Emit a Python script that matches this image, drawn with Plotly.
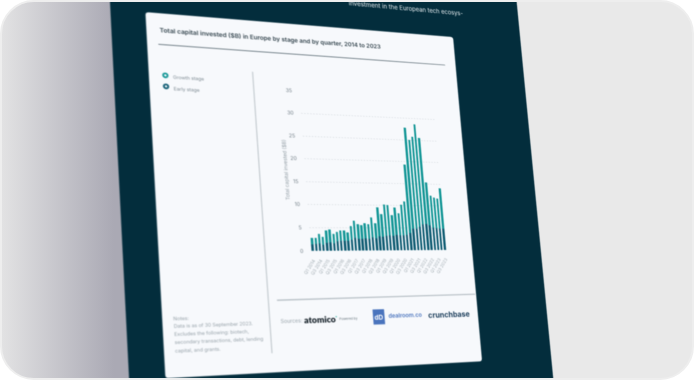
import json
import numpy as np
import plotly.graph_objects as go

# ---------- data ----------
quarters = [f"Q{q} {y}" for y in range(2014, 2024) for q in (1, 2, 3, 4)][:39]
early_stage = [1.4, 1.5, 1.6, 1.3, 1.7, 1.8, 1.6, 2.0, 2.1, 2.2, 2.2, 2.4, 2.8, 2.6, 2.6, 2.7, 2.6, 2.9, 2.7, 3.1,
               3.0, 3.2, 3.3, 3.2, 3.4, 3.3, 3.3, 3.4, 3.9, 4.8, 4.8, 5.3, 5.8, 5.9, 5.6, 5.1, 4.9, 4.8, 4.8]
growth_stage = [1.4, 1.3, 2.1, 1.7, 2.7, 2.8, 2.1, 2.1, 2.3, 2.2, 1.8, 3.0, 3.8, 3.2, 3.0, 3.3, 3.2, 4.4, 3.3, 6.5,
                5.1, 7.0, 6.8, 4.6, 6.2, 5.0, 6.9, 7.6, 15.4, 23.0, 20.2, 20.5, 22.9, 19.7, 9.7, 7.3, 7.0, 6.9, 9.3]
y_ticks = [0, 5, 10, 15, 20, 25, 30, 35]
title_text = "Total capital invested ($B) in Europe by stage and by quarter, 2014 to 2023"
note_lines = ["Notes:", "Data is as of 30 September 2023.", "Excludes the following: biotech,",
              "secondary transactions, debt, lending", "capital, and grants."]

# ---------- the page is one tilted plane: homography from flat card to screen ----------
TEAL, DARK, PANEL, CARD = "#139696", "#0e5b72", "#032d3c", "#f7f9fc"
CW, CH = 620.0, 700.0
card_screen = [(145, 12), (453, 37), (482, 361), (165, 378)]


def homography(src, dst):
    A, b = [], []
    for (x, y), (u, v) in zip(src, dst):
        A.append([x, y, 1, 0, 0, 0, -u * x, -u * y]); b.append(u)
        A.append([0, 0, 0, x, y, 1, -v * x, -v * y]); b.append(v)
    return np.append(np.linalg.solve(np.array(A, float), np.array(b, float)), 1).reshape(3, 3)


H0 = homography([(0, 0), (CW, 0), (CW, CH), (0, CH)], card_screen)
H0inv = np.linalg.inv(H0)


def inv(sx, sy):
    p = H0inv @ np.array([sx, sy, 1.0])
    return p[0] / p[2], p[1] / p[2]


left = (inv(110, 2)[0] + inv(129, 378)[0]) / 2
right = (inv(517, 2)[0] + inv(553, 378)[0]) / 2
corners = [inv(110, 0), inv(517, 0), inv(553, 380), inv(129, 380), inv(560, 0), inv(100, 380)]
top = min(c[1] for c in corners) - 10
bottom = max(c[1] for c in corners) + 10
FW, FH = int(round(right - left)), int(round(bottom - top))

T = np.array([[1, 0, left], [0, 1, top], [0, 0, 1.0]])
S = np.array([[1, 0, -2], [0, 1, -2], [0, 0, 1.0]])
H = S @ H0 @ T
H = H / H[2, 2]

# plot area on the plane
pl = (inv(300, 90.7)[0] + inv(310, 250.5)[0]) / 2 - left
pr = (inv(433.3, 98.3)[0] + inv(446.7, 250)[0]) / 2 - left
pt = (inv(300, 90.7)[1] + inv(433.3, 98.3)[1]) / 2 - top
pb = (inv(310, 250.5)[1] + inv(446.7, 250)[1]) / 2 - top
PW, PH = pr - pl, pb - pt


def at(sx, sy):
    fx, fy = inv(sx, sy)
    return (fx - left - pl) / PW, 1 - (fy - top - pt) / PH


def fl(fx, fy):
    return (fx - left - pl) / PW, 1 - (fy - top - pt) / PH


def line(p, q, color, width):
    a, b = at(*p), at(*q)
    return dict(type="line", xref="paper", yref="paper", x0=a[0], y0=a[1], x1=b[0], y1=b[1],
                line=dict(color=color, width=width), layer="below")


def dot(c, r, color):
    cx, cy = inv(*c)
    a, b = fl(cx - r, cy - r), fl(cx + r, cy + r)
    return dict(type="circle", xref="paper", yref="paper", x0=a[0], y0=a[1], x1=b[0], y1=b[1],
                fillcolor=color, line=dict(width=0), layer="below")


def label(s, p, size, color, anchor="left", weight=400, family="Inter"):
    x, y = at(*p)
    return dict(text=s, x=x, y=y, xref="paper", yref="paper", showarrow=False, xanchor=anchor, yanchor="middle",
                font=dict(size=size, color=color, family=family, weight=weight))


# card with small rounded corners
r = 6
pts = [(r, 0), (CW - r, 0), (CW, 0), (CW, r), (CW, CH - r), (CW, CH), (CW - r, CH), (r, CH), (0, CH), (0, CH - r), (0, r), (0, 0)]
q = [fl(*p) for p in pts]
card_path = (f"M{q[0][0]},{q[0][1]} L{q[1][0]},{q[1][1]} Q{q[2][0]},{q[2][1]} {q[3][0]},{q[3][1]} "
             f"L{q[4][0]},{q[4][1]} Q{q[5][0]},{q[5][1]} {q[6][0]},{q[6][1]} L{q[7][0]},{q[7][1]} "
             f"Q{q[8][0]},{q[8][1]} {q[9][0]},{q[9][1]} L{q[10][0]},{q[10][1]} Q{q[11][0]},{q[11][1]} {q[0][0]},{q[0][1]} Z")

a1, b1 = at(372.3, 309.3), at(385, 324)
shapes = [
    dict(type="path", xref="paper", yref="paper", path=card_path, fillcolor=CARD, line=dict(width=0), layer="below"),
    line((158, 44.3), (445, 65), "#51626b", 1.4),
    line((252.3, 71.7), (271.7, 353), "#b9c1c6", 1.8),
    line((276.7, 300), (475, 294), "#b4bdc3", 2.4),
    dot((165, 75.3), 5.6, TEAL), dot((165, 75.3), 2.2, CARD),
    dot((165.7, 86.3), 5.6, DARK), dot((165.7, 86.3), 2.2, CARD),
    dot((336, 316.5), 1.3, "#35b6a8"),
    dict(type="rect", xref="paper", yref="paper", x0=a1[0], y0=a1[1], x1=b1[0], y1=b1[1],
         fillcolor="#4a74bd", line=dict(width=0), layer="below"),
]

annotations = [
    label(title_text, (158, 30), 12.1, "#33444d", weight=600),
    label("investment in the European tech ecosys-", (464, 13.5), 13, "#e6edf0", anchor="right"),
    label("Growth stage", (171.7, 77), 9, "#7d8a92"),
    label("Early stage", (172.3, 88.3), 9, "#7d8a92"),
    label("Sources:", (279, 320.7), 10, "#98a3aa"),
    label("atomico", (302.7, 320), 17, "#17222a", weight=800, family="Lato"),
    label("Powered by", (338.3, 319), 6.5, "#66747c"),
    label("dD", (378.6, 317), 13, "#ffffff", anchor="center", weight=700),
    label("dealroom.co", (387.3, 316), 11.5, "#4a74bd", weight=600),
    label("crunchbase", (427, 315), 15.5, "#1d3f5c", weight=700),
]
for s, p in zip(note_lines, [(171.7, 318.5), (172.3, 326), (172.7, 334), (173, 342.2), (173.3, 350.5)]):
    annotations.append(label(s, p, 9, "#97a2a9"))

fig = go.Figure()
fig.add_bar(x=quarters, y=early_stage, name="Early stage", marker=dict(color=DARK, line=dict(width=0)))
fig.add_bar(x=quarters, y=growth_stage, name="Growth stage", marker=dict(color=TEAL, line=dict(width=0)))
fig.update_layout(
    width=FW, height=FH, autosize=False, barmode="stack", bargap=0.38, showlegend=False,
    paper_bgcolor=PANEL, plot_bgcolor="rgba(0,0,0,0)",
    margin=dict(l=pl, r=FW - pr, t=pt, b=FH - pb, pad=0),
    font=dict(family="Inter", color="#7d8a92"),
    shapes=shapes, annotations=annotations,
)
fig.update_xaxes(type="category", range=[-0.5, 38.5], tickvals=quarters[::2], ticktext=quarters[::2],
                 tickangle=-55, tickfont=dict(size=9, color="#a3adb3"), showgrid=False, zeroline=False,
                 showline=False, ticks="outside", ticklen=10, tickcolor="rgba(0,0,0,0)", automargin=False)
fig.update_yaxes(range=[0, 35], tickvals=y_ticks, tickfont=dict(size=10, color="#6f7c84"),
                 showgrid=True, gridcolor="#ccd2d6", griddash="dot", gridwidth=1.4, zeroline=False,
                 showline=False, ticks="outside", ticklen=12, tickcolor="rgba(0,0,0,0)", automargin=False,
                 title=dict(text="Total capital invested ($B)", font=dict(size=10, color="#8d99a0"), standoff=4))

m = H
matrix = [m[0, 0], m[1, 0], 0, m[2, 0], m[0, 1], m[1, 1], 0, m[2, 1], 0, 0, 1, 0, m[0, 2], m[1, 2], 0, m[2, 2]]
post = """
var gd = document.getElementById('{plot_id}');
var wrap = gd.parentElement;
document.documentElement.style.cssText = 'margin:0;background:#ffffff;overflow:hidden';
document.body.style.cssText = 'margin:0;background:#ffffff;overflow:hidden';
wrap.style.cssText = 'position:absolute;left:0;top:0;width:694px;height:380px;box-sizing:border-box;'
  + 'border:2px solid #eeeeee;border-radius:34px;overflow:hidden;'
  + 'background:linear-gradient(90deg,#e2e2e3 0px,#aaa9b4 112px,#aaa9b4 300px,#e9e9e9 300px);';
gd.style.cssText += ';position:absolute;left:0;top:0;transform-origin:0 0;filter:blur(0.9px);transform:matrix3d(MATRIX);';
""".replace("MATRIX", ",".join(f"{v:.10g}" for v in matrix))
fig.write_html("out.html", post_script=post, config={"displayModeBar": False})
